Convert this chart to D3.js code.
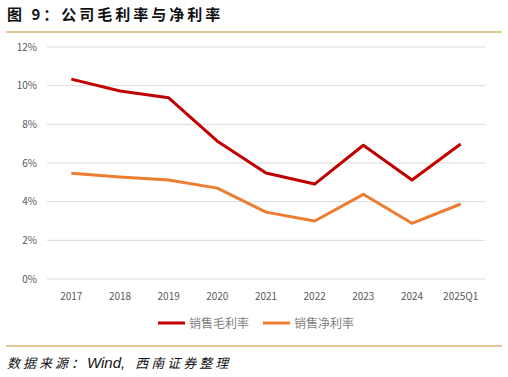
<!DOCTYPE html>
<html>
<head>
<meta charset="utf-8">
<script src="https://cdn.jsdelivr.net/npm/d3@7"></script>
<style>
  body { margin: 0; background: #fff; }
  text { font-family: "Noto Sans CJK SC", "Noto Sans", sans-serif; }
</style>
</head>
<body>
<div id="chart"></div>
<script>
// data
var years = ["2017", "2018", "2019", "2020", "2021", "2022", "2023", "2024", "2025Q1"];
var grossMargin = [10.34, 9.72, 9.37, 7.13, 5.48, 4.91, 6.92, 5.12, 6.98];
var netMargin = [5.47, 5.27, 5.12, 4.70, 3.46, 3.00, 4.38, 2.88, 3.88];
var yTicks = [0, 2, 4, 6, 8, 10, 12];
var seriesNames = ["销售毛利率", "销售净利率"];
var seriesColors = ["#C00000", "#ED7D31"];

var W = 508, H = 377;
var margin = {top: 47, right: 23, bottom: 98, left: 47},
    width = W - margin.left - margin.right,
    height = H - margin.top - margin.bottom;

var svg = d3.select("#chart")
  .append("svg")
    .attr("width", W)
    .attr("height", H);

// title + rules
svg.append("text")
  .attr("x", 7).attr("y", 20)
  .attr("font-size", 15).attr("font-weight", "bold")
  .attr("letter-spacing", 3)
  .attr("fill", "#111")
  .text("图 9：公司毛利率与净利率");
svg.append("line")
  .attr("x1", 6).attr("x2", 502).attr("y1", 32).attr("y2", 32)
  .attr("stroke", "#D9B47A").attr("stroke-width", 1.5);
svg.append("line")
  .attr("x1", 6).attr("x2", 502).attr("y1", 346).attr("y2", 346)
  .attr("stroke", "#D9B47A").attr("stroke-width", 1.5);
var src = svg.append("text")
  .attr("x", 7).attr("y", 368)
  .attr("font-size", 13).attr("font-style", "italic")
  .attr("fill", "#111");
src.append("tspan").attr("letter-spacing", 3).text("数据来源：");
src.append("tspan").attr("font-family", "Liberation Sans, Arial, sans-serif")
  .attr("font-size", 15).text("Wind,");
src.append("tspan").attr("dx", 10).attr("letter-spacing", 3).text("西南证券整理");

var g = svg.append("g")
  .attr("transform", "translate(" + margin.left + "," + margin.top + ")");

var x = d3.scalePoint()
  .domain(years)
  .range([0, width])
  .padding(0.5);

var y = d3.scaleLinear()
  .domain([0, 12])
  .range([height, 0]);

// grid
g.selectAll(".grid")
  .data(yTicks)
  .enter().append("line")
    .attr("x1", 0).attr("x2", width)
    .attr("y1", d => y(d)).attr("y2", d => y(d))
    .attr("stroke", "#D9D9D9").attr("stroke-width", 1);

// y labels
g.selectAll(".ylab")
  .data(yTicks)
  .enter().append("text")
    .attr("x", -10).attr("y", d => y(d) + 3.5)
    .attr("text-anchor", "end")
    .attr("font-size", 10).attr("fill", "#595959")
    .text(d => d + "%");

// x labels
g.selectAll(".xlab")
  .data(years)
  .enter().append("text")
    .attr("x", d => x(d)).attr("y", height + 21)
    .attr("text-anchor", "middle")
    .attr("font-size", 10).attr("fill", "#595959")
    .text(d => d);

var line = d3.line()
  .x((d, i) => x(years[i]))
  .y(d => y(d));

[grossMargin, netMargin].forEach(function(s, i) {
  g.append("path")
    .datum(s)
    .attr("d", line)
    .attr("fill", "none")
    .attr("stroke", seriesColors[i])
    .attr("stroke-width", 3)
    .attr("stroke-linejoin", "round");
});

// legend
var legX = [158, 263];
seriesNames.forEach(function(n, i) {
  svg.append("line")
    .attr("x1", legX[i]).attr("x2", legX[i] + 27)
    .attr("y1", 323).attr("y2", 323)
    .attr("stroke", seriesColors[i]).attr("stroke-width", 3);
  svg.append("text")
    .attr("x", legX[i] + 31).attr("y", 327.5)
    .attr("font-size", 12).attr("fill", "#7F7F7F")
    .text(n);
});
</script>
</body>
</html>
